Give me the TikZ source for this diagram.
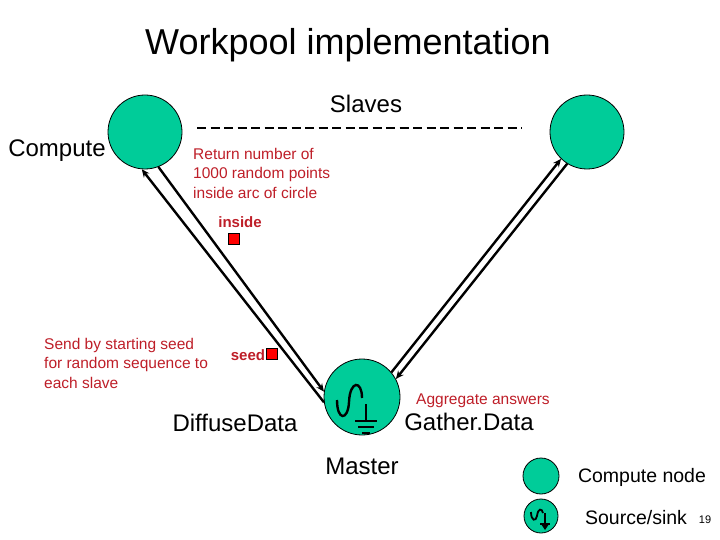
\documentclass[tikz,border=0pt]{standalone}
\usepackage{fontspec}
\setmainfont{Liberation Sans}
\usetikzlibrary{calc,arrows.meta}
\definecolor{grn}{RGB}{0,204,153}
\definecolor{rd}{RGB}{190,30,40}
\begin{document}
\begin{tikzpicture}[x=1pt,y=-1pt,
  circ/.style={circle,draw=black,fill=grn,line width=0.8pt,inner sep=0pt},
  lbl/.style={inner sep=0pt,font=\fontsize{24}{28}\selectfont},
  rtxt/.style={inner sep=0pt,text=rd,font=\fontsize{15.5}{19.5}\selectfont,align=left},
  msg/.style={line width=2.4pt,-{Stealth[length=8pt,width=7pt]}},
  sq/.style={draw=black,fill=red,line width=0.4pt,minimum size=11pt,inner sep=0pt}]
\useasboundingbox (0,0) rectangle (720,540);
\node[inner sep=0pt,font=\fontsize{36}{40}\selectfont] (title) at (348,45) {Workpool implementation};
\node[circ,minimum size=74pt] (L) at (145,132) {};
\node[circ,minimum size=74pt] (R) at (587,132) {};
\node[circ,minimum size=76pt] (M) at (362,397) {};
\node[lbl] (slaves) at (366,104) {Slaves};
\coordinate (d1) at (197,128); \coordinate (d2) at (522,128);
\draw[line width=1.6pt,dash pattern=on 9pt off 4.5pt] (d1) -- (d2);
\node[lbl] (comp) at (57,151) {Compute};
% connectors
\draw[msg] (M.188) -- (L.265);
\draw[msg] (L.291) -- (M.172);
\draw[msg] (M.40) -- (R.226);
\draw[msg] (R.238) -- (M.28);
% master symbol
\draw[line width=2.4pt] (337,400) .. controls (337,421) and (348,421) .. (349,402) .. controls (350,380) and (362,380) .. (362,398);
\draw[line width=2.4pt] (366,404) -- (366,421) (355,421) -- (377,421) (358,427) -- (374,427) (362,433) -- (370,433);
% texts
\node[rtxt,anchor=north west] (ret) at (193,148) {Return number of\\1000 random points\\inside arc of circle};
\node[rtxt,font=\bfseries\fontsize{15}{18}\selectfont] (ins) at (240,222) {inside};
\node[sq] (sq1) at (234,239) {};
\node[rtxt,font=\bfseries\fontsize{15}{18}\selectfont] (seed) at (248,355) {seed};
\node[sq] (sq2) at (272,354) {};
\node[rtxt,anchor=north west] (send) at (44,338) {Send by starting seed\\for random sequence to\\each slave};
\node[rtxt,font=\fontsize{15.5}{18}\selectfont] (agg) at (483,401) {Aggregate answers};
\node[lbl] (diff) at (235,423) {DiffuseData};
\node[lbl] (gath) at (469,422) {Gather.Data};
\node[lbl] (mas) at (362,466) {Master};
% legend
\node[circ,minimum size=36pt] (lc) at (541,476) {};
\node[circ,minimum size=34pt] (ls) at (541,516) {};
\draw[line width=1.8pt] (531,512) .. controls (531,521) and (536,522) .. (537,516) .. controls (538,508) and (542,508) .. (543,513);
\draw[line width=1.8pt] (545,513) -- (545,524) (540,524) -- (550,524);
\fill (541,524) -- (549,524) -- (545,530) -- cycle;
\node[inner sep=0pt,font=\fontsize{19.5}{22}\selectfont] (lt1) at (642,477) {Compute node};
\node[inner sep=0pt,font=\fontsize{19.5}{22}\selectfont] (lt2) at (636,518) {Source/sink};
\node[inner sep=0pt,font=\fontsize{11}{12}\selectfont] (pg) at (705,520) {19};
\end{tikzpicture}
\end{document}
